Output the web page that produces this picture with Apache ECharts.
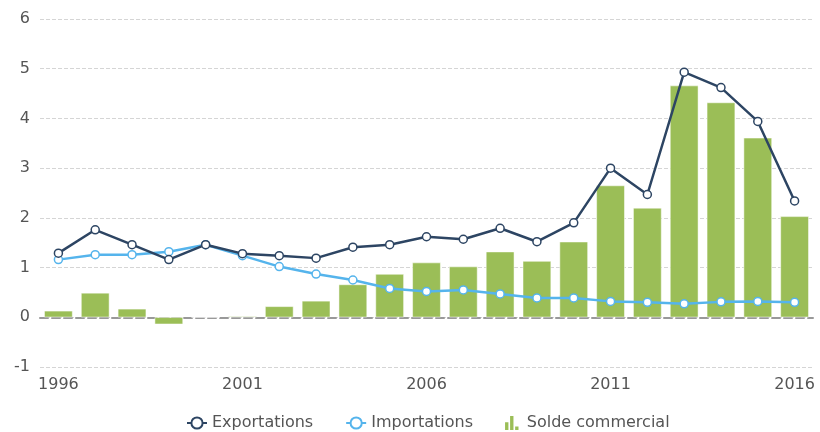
<!DOCTYPE html>
<html>
<head>
<meta charset="utf-8">
<script src="https://cdn.jsdelivr.net/npm/echarts@6/dist/echarts.min.js"></script>
<style>
  html, body { margin: 0; padding: 0; background: #fff; }
  #chart { width: 820px; height: 432px; }
</style>
</head>
<body>
<div id="chart"></div>
<script>
var years = ['1996', '1997', '1998', '1999', '2000', '2001', '2002', '2003', '2004', '2005', '2006',
    '2007', '2008', '2009', '2010', '2011', '2012', '2013', '2014', '2015', '2016'];
var exportations = [1.29, 1.76, 1.46, 1.16, 1.46, 1.28, 1.24, 1.19, 1.41, 1.46, 1.62,
    1.57, 1.79, 1.52, 1.90, 3.00, 2.47, 4.93, 4.62, 3.94, 2.34];
var importations = [1.16, 1.26, 1.26, 1.32, 1.46, 1.24, 1.02, 0.87, 0.75, 0.58, 0.52,
    0.55, 0.47, 0.39, 0.39, 0.32, 0.30, 0.27, 0.31, 0.32, 0.30];
var solde = [0.13, 0.49, 0.17, -0.14, 0, 0.02, 0.22, 0.33, 0.66, 0.87, 1.10,
    1.02, 1.32, 1.13, 1.52, 2.65, 2.20, 4.66, 4.32, 3.61, 2.03];

var myChart = echarts.init(document.getElementById('chart'));

var option = {
    animation: false,
    textStyle: { fontFamily: 'DejaVu Sans' },
    grid: { left: 40, right: 7, top: 19, bottom: 65 },
    legend: {
        bottom: -4,
        left: 181,
        itemGap: 32,
        itemWidth: 20,
        itemHeight: 14,
        textStyle: { fontSize: 16, color: '#555' },
        data: [
            { name: 'Exportations' },
            { name: 'Importations' },
            {
                name: 'Solde commercial',
                icon: 'path://M0,100L0,45L24,45L24,100Z M36,100L36,0L60,0L60,100Z M72,100L72,75L96,75L96,100Z',
                itemStyle: { color: '#9bbe57', borderWidth: 0 }
            }
        ]
    },
    xAxis: {
        type: 'category',
        data: years,
        axisLine: { onZero: true, lineStyle: { color: '#999', type: 'dashed', width: 2 } },
        axisTick: { show: false },
        axisLabel: { interval: 4, fontSize: 16, color: '#555', margin: 18, verticalAlign: 'middle' },
        splitLine: { show: false }
    },
    yAxis: {
        type: 'value',
        min: -1,
        max: 6,
        interval: 1,
        axisLine: { show: false },
        axisTick: { show: false },
        axisLabel: { fontSize: 16, color: '#555', margin: 10 },
        splitLine: { lineStyle: { color: '#d5d5d5', type: 'dashed' } }
    },
    series: [
        {
            name: 'Solde commercial',
            type: 'bar',
            data: solde,
            barCategoryGap: '23%',
            itemStyle: { color: '#9bbe57', borderColor: '#fff', borderWidth: 0.5 },
            z: 1
        },
        {
            name: 'Exportations',
            type: 'line',
            data: exportations,
            symbol: 'circle',
            symbolSize: 8,
            lineStyle: { color: '#2d4563', width: 2.5 },
            itemStyle: { color: '#fff', borderColor: '#2d4563', borderWidth: 1.5 },
            z: 3
        },
        {
            name: 'Importations',
            type: 'line',
            data: importations,
            symbol: 'circle',
            symbolSize: 8,
            lineStyle: { color: '#55b4ec', width: 2.5 },
            itemStyle: { color: '#fff', borderColor: '#55b4ec', borderWidth: 1.5 },
            z: 2
        }
    ]
};

myChart.setOption(option);
</script>
</body>
</html>
